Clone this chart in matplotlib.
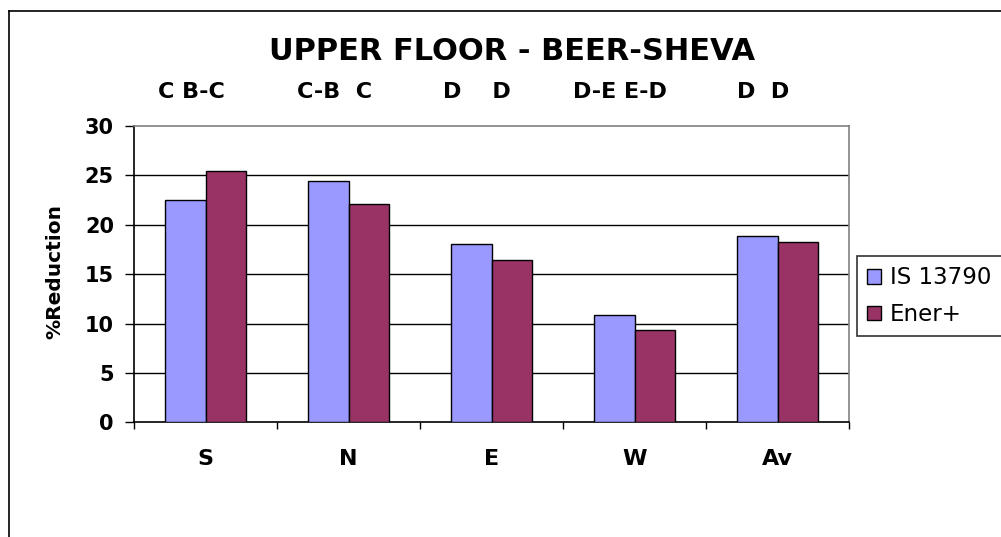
import matplotlib
matplotlib.use("Agg")
import matplotlib.pyplot as plt
import matplotlib.transforms as mtransforms
from matplotlib.lines import Line2D
import numpy as np

plt.rcParams['font.family'] = ['DejaVu Sans']

categories = ["S", "N", "E", "W", "Av"]
is13790 = [22.5, 24.4, 18.1, 10.9, 18.9]
ener_plus = [25.4, 22.1, 16.4, 9.35, 18.3]
grades = ["C B-C", "C-B  C", "D    D", "D-E E-D", "D  D"]
yticks = [0, 5, 10, 15, 20, 25, 30]

blue = "#9999FF"
red = "#993366"

fig = plt.figure(figsize=(10.01, 5.37), dpi=100)
ax = fig.add_axes([0.1339, 0.2136, 0.7143, 0.5518])

x = np.arange(len(categories))
w = 0.283
ax.bar(x - w / 2, is13790, w, color=blue, edgecolor="black", linewidth=1.0, label="IS 13790", zorder=3)
ax.bar(x + w / 2, ener_plus, w, color=red, edgecolor="black", linewidth=1.0, label="Ener+", zorder=3)

ax.set_xlim(-0.5, len(categories) - 0.5)
ax.set_ylim(0, 30)
ax.set_yticks(yticks)
ax.set_yticklabels([str(v) for v in yticks], fontsize=15, fontweight="bold")
ax.tick_params(axis="y", length=6.5, width=1.0, pad=8, direction="out")

ax.set_xticks(x)
ax.set_xticklabels(categories, fontsize=16, fontweight="bold")
ax.tick_params(axis="x", which="major", length=0, pad=19)
ax.set_xticks(np.arange(len(categories) + 1) - 0.5, minor=True)
ax.tick_params(axis="x", which="minor", length=5, width=1.0, direction="out")

ax.grid(axis="y", color="black", linewidth=1.0, zorder=1)
ax.set_axisbelow(True)
gl = ax.get_ygridlines()
gl[0].set_visible(False)
gl[-1].set_visible(False)

for s in ["left", "bottom"]:
    ax.spines[s].set_color("black")
    ax.spines[s].set_linewidth(1.2)
for s in ["top", "right"]:
    ax.spines[s].set_color("#808080")
    ax.spines[s].set_linewidth(1.2)

ax.set_ylabel("%Reduction", fontsize=14.5, fontweight="bold")
ax.yaxis.set_label_coords(-0.097, 0.51)

fig.text(512 / 1001, 1 - 52 / 537, "UPPER FLOOR - BEER-SHEVA", fontsize=22,
         fontweight="bold", ha="center", va="center")

trans = mtransforms.blended_transform_factory(ax.transData, fig.transFigure)
for i, g in enumerate(grades):
    ax.text(i - 0.1, 1 - 92 / 537, g, transform=trans, fontsize=16, fontweight="bold",
            ha="center", va="center")

leg = ax.legend(loc="upper left", bbox_to_anchor=(857 / 1001, 1 - 256 / 537),
                bbox_transform=fig.transFigure, fontsize=16.5, frameon=True,
                fancybox=False, edgecolor="black", borderpad=0.45,
                handlelength=0.6, handleheight=0.6, handletextpad=0.4,
                labelspacing=0.6, borderaxespad=0)
leg.get_frame().set_linewidth(1.2)

# outer chart border
fig.add_artist(Line2D([9 / 1001, 9 / 1001], [0, 1 - 11 / 537], color="black", linewidth=1.2,
                      transform=fig.transFigure))
fig.add_artist(Line2D([9 / 1001, 1], [1 - 11 / 537, 1 - 11 / 537], color="black", linewidth=1.2,
                      transform=fig.transFigure))

fig.savefig("out.png", dpi=100)
